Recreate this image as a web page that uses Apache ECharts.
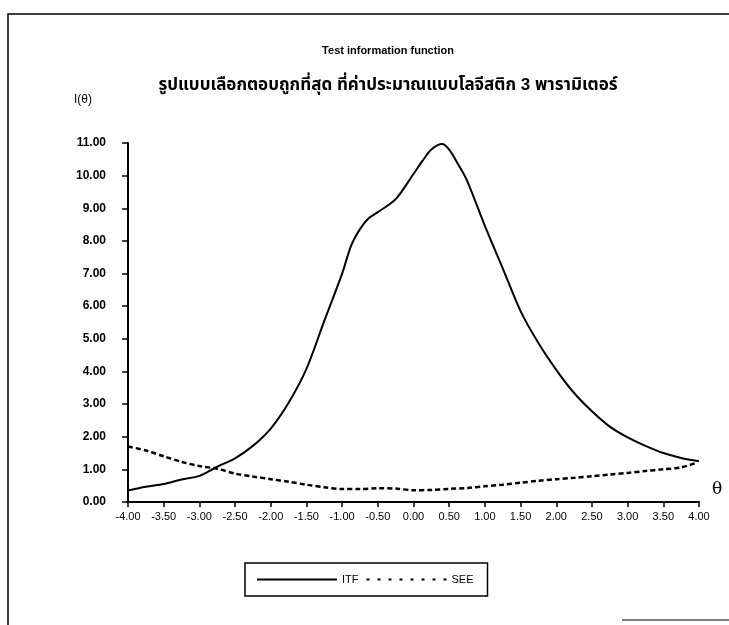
<!DOCTYPE html>
<html>
<head>
<meta charset="utf-8">
<script src="https://cdn.jsdelivr.net/npm/echarts@6/dist/echarts.min.js"></script>
<style>
  html, body { margin: 0; padding: 0; background: #fff; }
  #chart { width: 729px; height: 625px; }
</style>
</head>
<body>
<div id="chart"></div>
<script>
// ---- data ----
var titleText = 'Test information function';
var subtitleText = 'รูปแบบเลือกตอบถูกที่สุด ที่ค่าประมาณแบบโลจีสติก 3 พารามิเตอร์';
var yAxisTitle = 'I(θ)';
var xAxisTitle = 'θ';
var seriesNames = ['ITF', 'SEE'];

var itfTheta = [-4.00, -3.75, -3.50, -3.25, -3.00, -2.75, -2.50, -2.25, -2.00, -1.75, -1.50, -1.25, -1.00, -0.875, -0.75, -0.625, -0.50, -0.25, 0.00, 0.125, 0.25, 0.40, 0.50, 0.625, 0.75, 1.00, 1.25, 1.50, 1.75, 2.00, 2.25, 2.50, 2.75, 3.00, 3.25, 3.50, 3.75, 4.00];
var itfValue = [0.35, 0.47, 0.55, 0.69, 0.80, 1.08, 1.34, 1.72, 2.25, 3.04, 4.08, 5.55, 7.00, 7.85, 8.36, 8.70, 8.88, 9.28, 10.05, 10.45, 10.80, 10.97, 10.80, 10.35, 9.85, 8.46, 7.16, 5.85, 4.87, 4.05, 3.34, 2.78, 2.31, 1.98, 1.72, 1.50, 1.35, 1.25];

var seeTheta = [-4.00, -3.75, -3.50, -3.25, -3.00, -2.75, -2.50, -2.25, -2.00, -1.75, -1.50, -1.25, -1.00, -0.75, -0.50, -0.25, 0.00, 0.25, 0.50, 0.75, 1.00, 1.25, 1.50, 1.75, 2.00, 2.25, 2.50, 2.75, 3.00, 3.25, 3.50, 3.75, 3.95];
var seeValue = [1.70, 1.58, 1.40, 1.23, 1.10, 1.02, 0.87, 0.78, 0.70, 0.62, 0.53, 0.45, 0.40, 0.40, 0.42, 0.41, 0.36, 0.37, 0.40, 0.43, 0.48, 0.53, 0.59, 0.65, 0.70, 0.74, 0.79, 0.84, 0.89, 0.95, 1.00, 1.06, 1.19];

var xMin = -4, xMax = 4, xStep = 0.5;
var yMin = 0, yMax = 11, yStep = 1;

function pairs(xs, ys) { return xs.map(function (x, i) { return [x, ys[i]]; }); }

var chart = echarts.init(document.getElementById('chart'), null, { renderer: 'canvas' });
var font = '"Liberation Sans", Arial, "Noto Sans Thai", "Noto Sans", sans-serif';

// legend glyphs: solid bar and a row of short dashes
var solidIcon = 'path://M0,0 L80,0 L80,2 L0,2 Z';
var dotIcon = 'path://' + (function () {
  var s = '';
  for (var i = 0; i < 8; i++) { var x = i * 11; s += 'M' + x + ',0 L' + (x + 3) + ',0 L' + (x + 3) + ',2 L' + x + ',2 Z '; }
  return s;
})();

chart.setOption({
  backgroundColor: '#ffffff',
  animation: false,
  title: [
    { text: titleText, left: 383, top: 40, textAlign: 'center',
      textStyle: { fontFamily: font, fontSize: 11, fontWeight: 'bold', color: '#000' } },
    { text: subtitleText, left: 383, top: 72, textAlign: 'center',
      textStyle: { fontFamily: font, fontSize: 17, fontWeight: 'bold', color: '#000' } }
  ],
  grid: { left: 128, right: 30, top: 143, bottom: 123, containLabel: false },
  xAxis: {
    type: 'value', min: xMin, max: xMax, interval: xStep,
    splitLine: { show: false },
    axisLine: { show: true, onZero: false, lineStyle: { color: '#000', width: 2 } },
    axisTick: { show: true, length: 5, lineStyle: { color: '#000', width: 1.5 } },
    axisLabel: { margin: 9, color: '#000', fontFamily: font, fontSize: 11,
      formatter: function (v) { return v.toFixed(2); } }
  },
  yAxis: {
    type: 'value', min: yMin, max: yMax, interval: yStep,
    splitLine: { show: false },
    axisLine: { show: true, onZero: false, lineStyle: { color: '#000', width: 2 } },
    axisTick: { show: true, length: 6, lineStyle: { color: '#000', width: 1.5 } },
    axisLabel: { margin: 22, color: '#000', fontFamily: font, fontSize: 12, fontWeight: 'bold',
      formatter: function (v) { return v.toFixed(2); } }
  },
  legend: {
    left: 245, top: 563,
    orient: 'horizontal',
    padding: [11, 14, 11, 12],
    itemGap: 8,
    itemWidth: 80, itemHeight: 12,
    borderColor: '#000', borderWidth: 1.5,
    textStyle: { fontFamily: font, fontSize: 11, color: '#000' },
    data: [
      { name: seriesNames[0], icon: solidIcon },
      { name: seriesNames[1], icon: dotIcon }
    ]
  },
  graphic: [
    { type: 'polyline', silent: true,
      shape: { points: [[8, 640], [8, 14], [740, 14]] },
      style: { stroke: '#000', lineWidth: 1.5, fill: null } },
    { type: 'line', silent: true,
      shape: { x1: 622, y1: 620, x2: 729, y2: 620 },
      style: { stroke: '#000', lineWidth: 1.2 } },
    { type: 'text', left: 74, top: 94, silent: true,
      style: { text: yAxisTitle, fontFamily: font, fontSize: 12, fill: '#000' } },
    { type: 'text', left: 712, top: 481, silent: true,
      style: { text: xAxisTitle, fontFamily: '"DejaVu Serif", "Liberation Serif", serif', fontSize: 17, fill: '#000' } }
  ],
  series: [
    {
      name: seriesNames[0], type: 'line', data: pairs(itfTheta, itfValue),
      showSymbol: false, symbol: 'none', smooth: 0.3,
      lineStyle: { color: '#000', width: 2, type: 'solid' },
      itemStyle: { color: '#000' }
    },
    {
      name: seriesNames[1], type: 'line', data: pairs(seeTheta, seeValue),
      showSymbol: false, symbol: 'none', smooth: 0.3,
      lineStyle: { color: '#000', width: 2.5, type: [5, 3] },
      itemStyle: { color: '#000' }
    }
  ]
});
</script>
</body>
</html>
